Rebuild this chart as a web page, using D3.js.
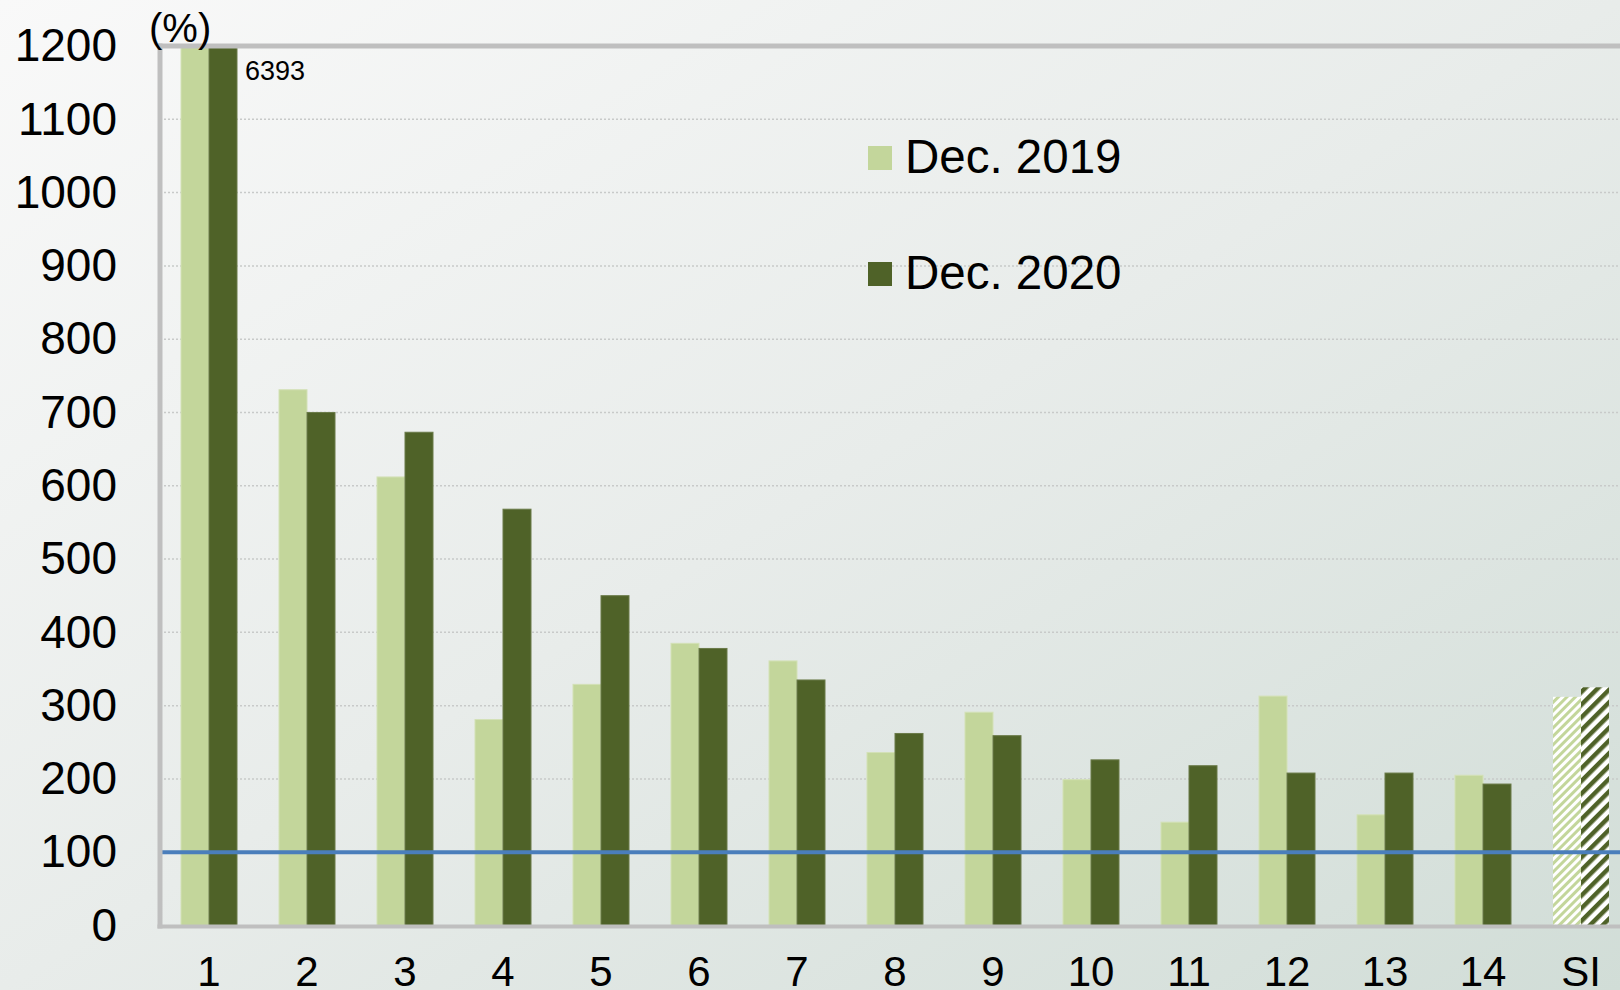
<!DOCTYPE html>
<html>
<head>
<meta charset="utf-8">
<script src="https://cdn.jsdelivr.net/npm/d3@7"></script>
<style>
	html, body { margin: 0; padding: 0; overflow: hidden; }
	svg { display: block; font-family: "Liberation Sans", Arial, sans-serif; }
</style>
</head>
<body>
<div id="chart"></div>
<script>
/* global d3 */

const categories = ['1', '2', '3', '4', '5', '6', '7', '8', '9', '10', '11', '12', '13', '14', 'SI'];
const seriesNames = ['Dec. 2019', 'Dec. 2020'];
// bar 1 runs off the scale in both series
const dec2019 = [1500, 731, 612, 281, 329, 385, 361, 236, 291, 199, 141, 313, 151, 205, 312];
const dec2020 = [6393, 700, 673, 568, 450, 378, 335, 262, 259, 226, 218, 208, 208, 193, 325];
const yTicks = [0, 100, 200, 300, 400, 500, 600, 700, 800, 900, 1000, 1100, 1200];
const refValue = 100;

const width = 1620;
const height = 990;
const margins = { left: 160, top: 46, bottom: 64.5 };

const colors = { 'Dec. 2019': '#c3d69b', 'Dec. 2020': '#4f6228' };
const strokes = { 'Dec. 2019': '#d3e1b6', 'Dec. 2020': '#6a7a48' };

const svg = d3.select('#chart').append('svg')
	.attr('width', width)
	.attr('height', height);

const defs = svg.append('defs');

const bg = defs.append('linearGradient')
	.attr('id', 'bg')
	.attr('x1', 0).attr('y1', 0)
	.attr('x2', 1).attr('y2', 1);
bg.append('stop').attr('offset', 0).attr('stop-color', '#f9f9f9');
bg.append('stop').attr('offset', 0.5).attr('stop-color', '#e8ecea');
bg.append('stop').attr('offset', 1).attr('stop-color', '#d1ddd7');

// hatch patterns for the SI pair
const hatchSize = [6, 9];
seriesNames.forEach((name, i) => {
	const s = hatchSize[i];
	const p = defs.append('pattern')
		.attr('id', `hatch${i}`)
		.attr('patternUnits', 'userSpaceOnUse')
		.attr('width', s)
		.attr('height', s)
		.attr('patternTransform', 'rotate(45)');
	p.append('rect').attr('width', s).attr('height', s).attr('fill', '#ffffff');
	p.append('rect').attr('width', s / 2).attr('height', s).attr('fill', colors[name]);
});

svg.append('rect')
	.attr('width', width)
	.attr('height', height)
	.attr('fill', 'url(#bg)');

const x = d3.scaleBand()
	.domain(categories)
	.range([margins.left, margins.left + categories.length * 98]);

const xSub = d3.scaleBand()
	.domain(seriesNames)
	.range([0, x.bandwidth()])
	.paddingOuter(0.75);

const y = d3.scaleLinear()
	.domain([0, 1200])
	.range([height - margins.bottom, margins.top]);

// dotted gridlines
svg.append('g')
	.selectAll('line')
	.data(yTicks.filter(d => d > 0 && d < 1200))
	.enter().append('line')
	.attr('x1', margins.left)
	.attr('x2', width)
	.attr('y1', d => y(d))
	.attr('y2', d => y(d))
	.attr('stroke', '#c8cac9')
	.attr('stroke-width', 1.5)
	.attr('stroke-dasharray', '2,2');

const rows = categories.map((c, i) => ({ cat: c, values: [dec2019[i], dec2020[i]] }));

const group = svg.append('g')
	.selectAll('.group')
	.data(rows)
	.enter().append('g')
	.attr('class', 'group')
	.attr('transform', d => `translate(${x(d.cat)},0)`);

group.selectAll('rect')
	.data(d => d.values.map((v, i) => ({ cat: d.cat, name: seriesNames[i], idx: i, value: v })))
	.enter().append('rect')
	.attr('x', d => xSub(d.name))
	.attr('width', xSub.bandwidth())
	.attr('y', d => y(Math.min(d.value, 1200)))
	.attr('height', d => y(0) - y(Math.min(d.value, 1200)))
	.attr('fill', d => (d.cat === 'SI' ? `url(#hatch${d.idx})` : colors[d.name]))
	.attr('stroke', d => (d.cat === 'SI' ? 'none' : strokes[d.name]))
	.attr('stroke-width', 1);

// value label for the off-scale bar
svg.append('text')
	.attr('x', x('1') + xSub('Dec. 2020') + xSub.bandwidth() + 8)
	.attr('y', y(1200) + 34)
	.attr('font-size', 27)
	.attr('fill', '#000')
	.text(String(dec2020[0]));

// reference line at 100
svg.append('line')
	.attr('x1', margins.left)
	.attr('x2', width)
	.attr('y1', y(refValue))
	.attr('y2', y(refValue))
	.attr('stroke', '#4a7ebb')
	.attr('stroke-width', 4);

// frame: top border, left axis, bottom axis
svg.append('line')
	.attr('x1', margins.left - 2.5).attr('x2', width)
	.attr('y1', y(1200)).attr('y2', y(1200))
	.attr('stroke', '#bfbfbf').attr('stroke-width', 5);
svg.append('line')
	.attr('x1', margins.left).attr('x2', margins.left)
	.attr('y1', y(1200) - 2.5).attr('y2', y(0) + 3)
	.attr('stroke', '#bfbfbf').attr('stroke-width', 5);
svg.append('line')
	.attr('x1', margins.left - 2.5).attr('x2', width)
	.attr('y1', y(0) + 1).attr('y2', y(0) + 1)
	.attr('stroke', '#bfbfbf').attr('stroke-width', 4);

const yAxis = d3.axisLeft(y)
	.tickValues(yTicks)
	.tickFormat(d3.format('d'))
	.tickSize(0)
	.tickPadding(43);

const yAxisG = svg.append('g')
	.attr('transform', `translate(${margins.left},0)`)
	.call(yAxis);
yAxisG.select('.domain').remove();
yAxisG.selectAll('text')
	.attr('font-size', 46)
	.attr('font-family', '"Liberation Sans", Arial, sans-serif')
	.attr('fill', '#000');

const xAxis = d3.axisBottom(x)
	.tickSize(0)
	.tickPadding(30);

const xAxisG = svg.append('g')
	.attr('transform', `translate(0,${y(0) + 1})`)
	.call(xAxis);
xAxisG.select('.domain').remove();
xAxisG.selectAll('text')
	.attr('font-size', 42)
	.attr('font-family', '"Liberation Sans", Arial, sans-serif')
	.attr('fill', '#000');

svg.append('text')
	.attr('x', 149)
	.attr('y', 42)
	.attr('font-size', 40)
	.attr('fill', '#000')
	.text('(%)');

// legend
const legend = svg.append('g')
	.selectAll('.legend')
	.data(seriesNames)
	.enter().append('g')
	.attr('class', 'legend')
	.attr('transform', (d, i) => `translate(868,${146 + i * 116})`);

legend.append('rect')
	.attr('width', 24)
	.attr('height', 24)
	.attr('fill', d => colors[d]);

legend.append('text')
	.attr('x', 37)
	.attr('y', 27)
	.attr('font-size', 47.5)
	.attr('fill', '#000')
	.text(d => d);
</script>
</body>
</html>
